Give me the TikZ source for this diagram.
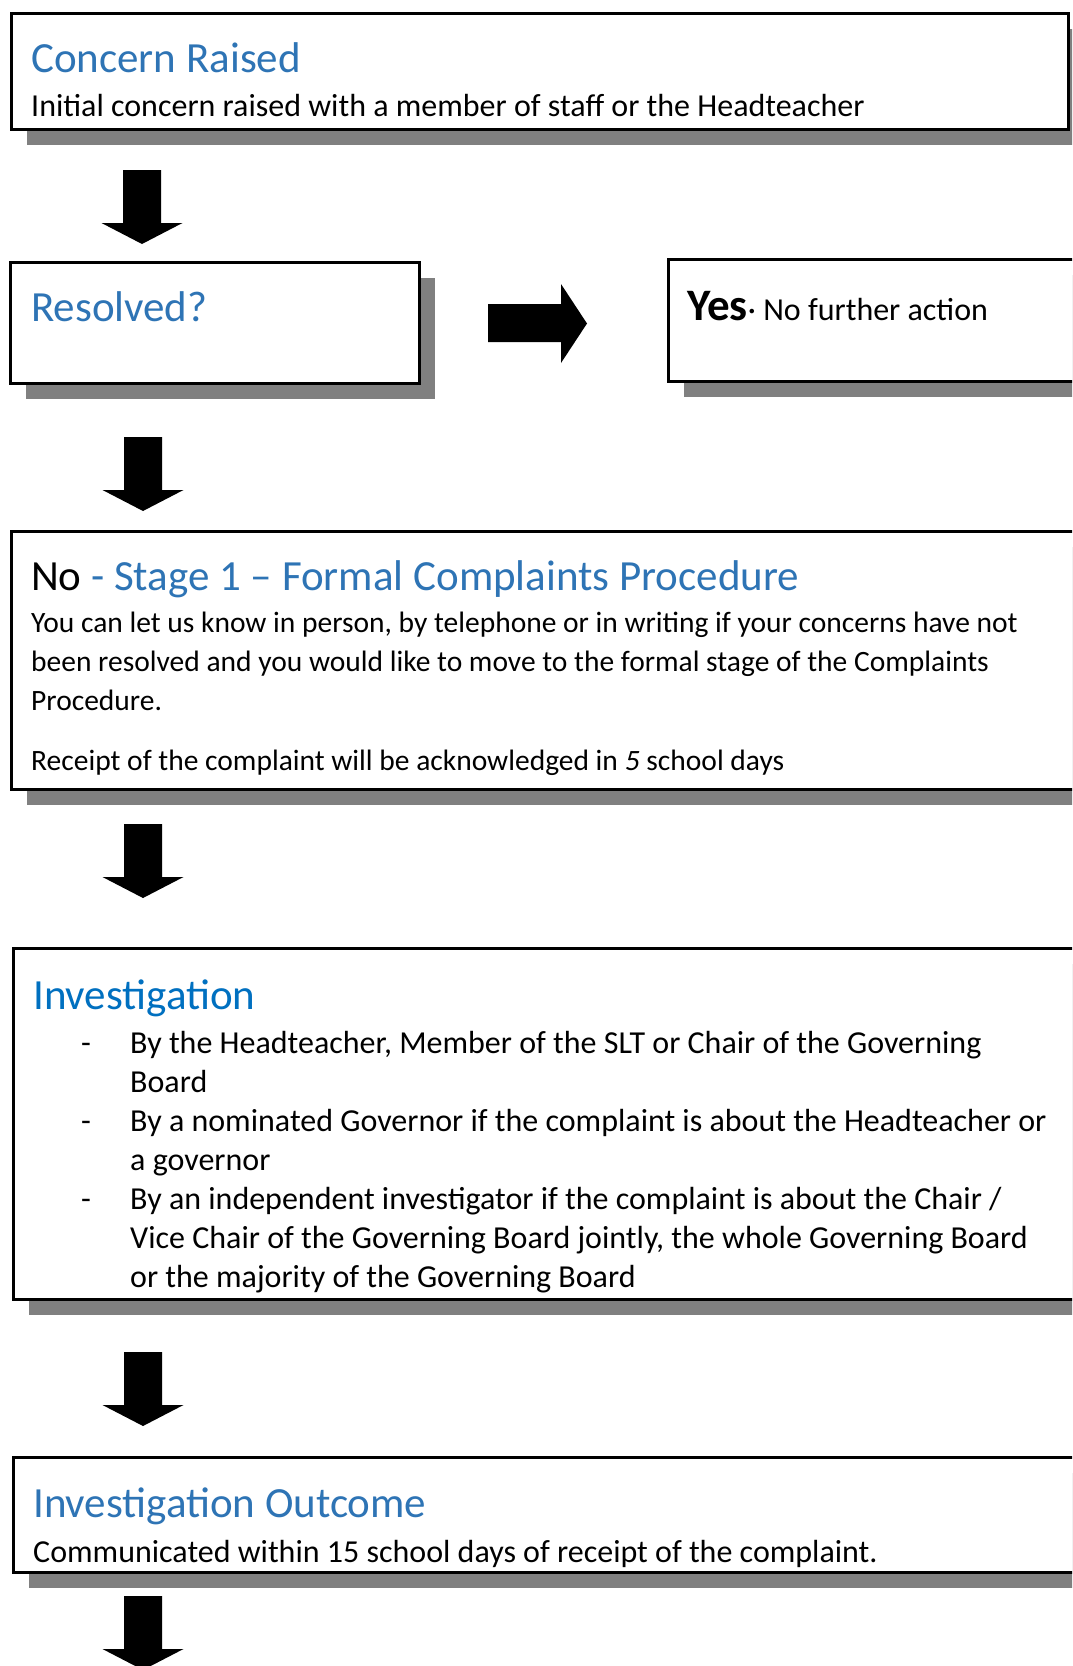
\documentclass[tikz,border=0pt]{standalone}
\usepackage{fontspec}
\setmainfont{Carlito}
\usetikzlibrary{shadows}
\definecolor{hblue}{RGB}{46,116,181}
\definecolor{iblue}{RGB}{0,112,192}
\definecolor{shgray}{RGB}{128,128,128}
\begin{document}
\begin{tikzpicture}[x=1pt,y=-1pt,
  panel/.style={draw=black, line width=2.5pt, fill=white, anchor=north west, inner sep=0pt,
    general shadow={fill=shgray, shadow xshift=16pt, shadow yshift=-16pt}},
  title/.style={anchor=base west, inner sep=0pt, font=\fontsize{43}{51}\selectfont, text=hblue},
  body/.style={anchor=base west, inner sep=0pt, font=\fontsize{32}{39}\selectfont},
  smallbody/.style={anchor=base west, inner sep=0pt, font=\fontsize{29.5}{39}\selectfont},
  downarrowblock/.pic={\fill[black] (-19,0) -- (19,0) -- (19,53) -- (40.5,53) -- (0,74) -- (-40.5,53) -- (-19,53) -- cycle;}]
\useasboundingbox (0,0) rectangle (1072,1666);
\begin{scope}
\clip (0,0) rectangle (1072,1666);
% panels
\node[panel, minimum width=1057pt, minimum height=116pt] (b1) at (10,12) {};
\node[panel, minimum width=409pt, minimum height=121pt] (b2) at (9,261) {};
\node[panel, minimum width=420pt, minimum height=122pt] (b3) at (667,258) {};
\node[panel, minimum width=1080pt, minimum height=258pt] (b4) at (10,530) {};
\node[panel, minimum width=1080pt, minimum height=351pt] (b5) at (12,947) {};
\node[panel, minimum width=1080pt, minimum height=115pt] (b6) at (12,1456) {};
% arrows
\pic (a1) at (142,170) {downarrowblock};
\pic (a2) at (143,437) {downarrowblock};
\pic (a3) at (143,824) {downarrowblock};
\pic (a4) at (143,1352) {downarrowblock};
\pic (a5) at (143,1596) {downarrowblock};
\fill[black] (488,304) -- (561,304) -- (561,284) -- (587,323.5) -- (561,363) -- (561,342) -- (488,342) -- cycle;
% texts
\node[title] (t1) at (31,72) {Concern Raised};
\node[body] (d1) at (31,116) {Initial concern raised with a member of staff or the Headteacher};
\node[title] (t2) at (31,321) {Resolved?};
\node[anchor=base west, inner sep=0pt, font=\fontsize{45}{52}\selectfont\bfseries] (t3) at (687,320) {Yes};
\node[body] (d3) at (t3.base east) {· No further action};
\node[title, text=black] (t4) at (31,590) {No \textcolor{hblue}{- Stage 1 – Formal Complaints Procedure}};
\node[smallbody] (d4a) at (31,632) {You can let us know in person, by telephone or in writing if your concerns have not};
\node[smallbody] (d4b) at (31,671) {been resolved and you would like to move to the formal stage of the Complaints};
\node[smallbody] (d4c) at (31,710) {Procedure.};
\node[smallbody] (d4d) at (31,770) {Receipt of the complaint will be acknowledged in \textit{5} school days};
\node[title, text=iblue] (t5) at (33,1009) {Investigation};
\node[body] (m1) at (81,1053) {-};
\node[body] (l1) at (130,1053) {By the Headteacher, Member of the SLT or Chair of the Governing};
\node[body] (l2) at (130,1092) {Board};
\node[body] (m2) at (81,1131) {-};
\node[body] (l3) at (130,1131) {By a nominated Governor if the complaint is about the Headteacher or};
\node[body] (l4) at (130,1170) {a governor};
\node[body] (m3) at (81,1209) {-};
\node[body] (l5) at (130,1209) {By an independent investigator if the complaint is about the Chair /};
\node[body] (l6) at (130,1248) {Vice Chair of the Governing Board jointly, the whole Governing Board};
\node[body] (l7) at (130,1287) {or the majority of the Governing Board};
\node[title] (t6) at (33,1517) {Investigation Outcome};
\node[body] (d6) at (33,1562) {Communicated within 15 school days of receipt of the complaint.};
\end{scope}
\end{tikzpicture}
\end{document}
